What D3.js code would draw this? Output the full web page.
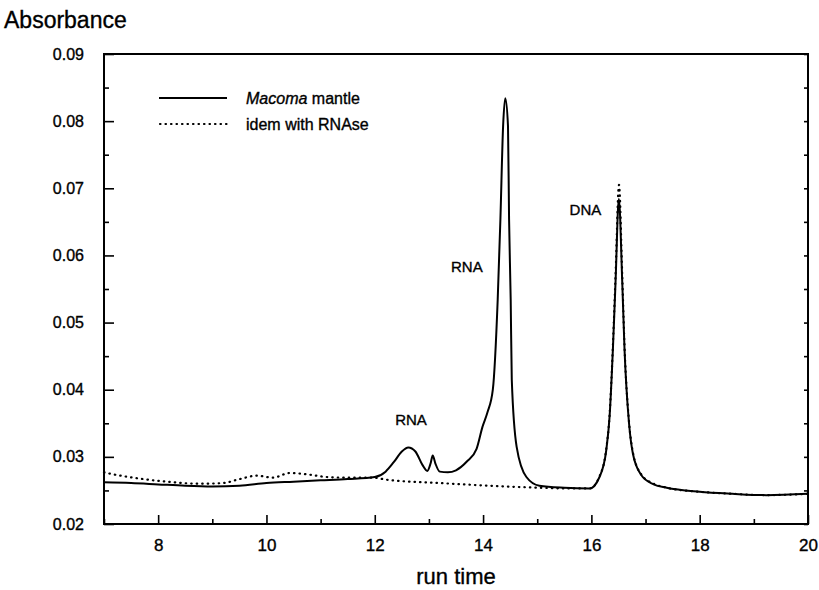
<!DOCTYPE html>
<html><head><meta charset="utf-8">
<script src="https://cdn.jsdelivr.net/npm/d3@7/dist/d3.min.js"></script>
<style>body{margin:0;background:#fff}svg{display:block}text{font-family:"Liberation Sans",Arial,sans-serif;fill:#000;stroke:#000;stroke-width:0.35px}</style>
</head><body><svg id="c" width="819" height="590"></svg>
<script>
// ---- data ----
const mantleX = [7.0,7.5,8.0,8.5,9.0,9.5,10.0,10.5,11.0,11.5,12.0,12.2,12.35,12.5,12.62,12.75,12.88,12.97,13.03,13.07,13.12,13.2,13.35,13.5,13.7,13.88,13.99,14.08,14.18,14.27,14.32,14.37,14.41,14.46,14.48,14.51,14.53,14.62,14.8,15.04,15.5,15.97,16.15,16.275,16.336,16.397,16.446,16.507,16.57,16.612,16.695,16.766,16.92,17.15,17.39,18.0,18.6,19.23,20.0];
const mantleY = [0.0262,0.0261,0.0259,0.0257,0.0256,0.0257,0.0261,0.0263,0.0265,0.0267,0.0270,0.0278,0.0292,0.0308,0.0314,0.0308,0.0288,0.0279,0.0290,0.0302,0.0290,0.0278,0.0277,0.0280,0.0293,0.0312,0.0345,0.0366,0.0400,0.0534,0.0654,0.0793,0.0834,0.0793,0.0654,0.0534,0.0415,0.0315,0.0270,0.0257,0.0254,0.0253,0.0270,0.0310,0.0360,0.0460,0.0560,0.0684,0.0560,0.0460,0.0350,0.0305,0.0273,0.0259,0.0254,0.0248,0.0245,0.0243,0.0245];
const rnaseX = [7.0,7.11,7.54,8.16,8.77,9.2,9.51,9.82,10.12,10.43,10.75,11.11,11.54,11.96,12.22,13.2,14.12,15.04,15.5,15.97,16.15,16.275,16.336,16.397,16.446,16.51,16.57,16.612,16.695,16.766,16.92,17.15,17.39,18.0,18.6,19.23,20.0];
const rnaseY = [0.0277,0.0275,0.0269,0.0263,0.0260,0.0261,0.0267,0.0272,0.0269,0.0276,0.0274,0.0270,0.0269,0.0269,0.0266,0.0261,0.0257,0.0254,0.0253,0.0253,0.0271,0.0312,0.0362,0.0465,0.0570,0.0705,0.0570,0.0465,0.0352,0.0307,0.0274,0.0260,0.0254,0.0248,0.0245,0.0243,0.0245];
const xTicks = [8,10,12,14,16,18,20];
const yTicks = [0.02,0.03,0.04,0.05,0.06,0.07,0.08,0.09];
const seriesNames = ["Macoma mantle","idem with RNAse"];
const peakLabels = [{t:"RNA",x:12.67,y:0.0348},{t:"RNA",x:13.70,y:0.0576},{t:"DNA",x:15.89,y:0.0660}];

// ---- chart ----
const svg = d3.select("#c");
const L=104,R=808,T=54,B=524;
const x = d3.scaleLinear().domain([7,20]).range([L,R]);
const y = d3.scaleLinear().domain([0.02,0.09]).range([B,T]);
const g = svg.append("g");

const line = d3.line().x(d=>x(d[0])).y(d=>y(d[1])).curve(d3.curveMonotoneX);
const mantle = mantleX.map((v,i)=>[v,mantleY[i]]);
const rnase = rnaseX.map((v,i)=>[v,rnaseY[i]]);

g.append("path").datum(rnase).attr("d",line).attr("fill","none").attr("stroke","#000")
 .attr("stroke-width",2.2).attr("stroke-dasharray","0.5 5").attr("stroke-linecap","round");
g.append("path").datum(mantle).attr("d",line).attr("fill","none").attr("stroke","#000").attr("stroke-width",2);

// frame
g.append("rect").attr("x",L).attr("y",T).attr("width",R-L).attr("height",B-T)
 .attr("fill","none").attr("stroke","#000").attr("stroke-width",2);

// axes
const xMinor = d3.range(7,21,1).filter(v=>v%2!==0);
const yMinor = d3.range(0.025,0.09,0.01);
const xa = g.append("g").attr("transform",`translate(0,${B})`)
 .call(d3.axisBottom(x).tickValues(xTicks).tickSizeInner(-9).tickSizeOuter(0).tickPadding(15).tickFormat(d3.format("d")));
xa.select(".domain").remove();
const xm = g.append("g").attr("transform",`translate(0,${B})`).call(d3.axisBottom(x).tickValues(xMinor).tickSize(-5).tickFormat(""));
xm.select(".domain").remove();
const ya = g.append("g").attr("transform",`translate(${L},0)`)
 .call(d3.axisLeft(y).tickValues(yTicks).tickSizeInner(-10).tickSizeOuter(0).tickPadding(20).tickFormat(d3.format(".2f")));
ya.select(".domain").remove();
const ym = g.append("g").attr("transform",`translate(${L},0)`).call(d3.axisLeft(y).tickValues(yMinor).tickSize(-5).tickFormat(""));
ym.select(".domain").remove();
const yr = g.append("g").attr("transform",`translate(${R},0)`).call(d3.axisRight(y).tickValues(yTicks.concat(yMinor)).tickSize(-4).tickFormat(""));
yr.select(".domain").remove();
svg.selectAll(".tick line").attr("stroke","#000").attr("stroke-width",1.6);
xa.selectAll("text").attr("font-size",17).attr("font-family","Liberation Sans, Arial, sans-serif");
ya.selectAll("text").attr("font-size",16).attr("font-family","Liberation Sans, Arial, sans-serif");

// titles
svg.append("text").attr("x",4).attr("y",28).attr("font-size",23).text("Absorbance");
svg.append("text").attr("x",(L+R)/2).attr("y",584).attr("text-anchor","middle").attr("font-size",22).text("run time");

// legend
const lg = svg.append("g");
const ly = [98,124];
lg.append("line").attr("x1",159).attr("x2",227).attr("y1",ly[0]).attr("y2",ly[0]).attr("stroke","#000").attr("stroke-width",2);
lg.append("line").attr("x1",160).attr("x2",227).attr("y1",ly[1]).attr("y2",ly[1]).attr("stroke","#000").attr("stroke-width",2.2)
  .attr("stroke-dasharray","0.5 5").attr("stroke-linecap","round");
const t1 = lg.append("text").attr("x",246).attr("y",ly[0]+6).attr("font-size",16);
t1.append("tspan").attr("font-style","italic").text(seriesNames[0].split(" ")[0]);
t1.append("tspan").text(" "+seriesNames[0].split(" ").slice(1).join(" "));
lg.append("text").attr("x",246).attr("y",ly[1]+6).attr("font-size",16).text(seriesNames[1]);

// peak labels
svg.selectAll(".pl").data(peakLabels).enter().append("text").attr("class","pl")
 .attr("x",d=>x(d.x)).attr("y",d=>y(d.y)).attr("text-anchor","middle").attr("font-size",15).text(d=>d.t);
</script></body></html>
